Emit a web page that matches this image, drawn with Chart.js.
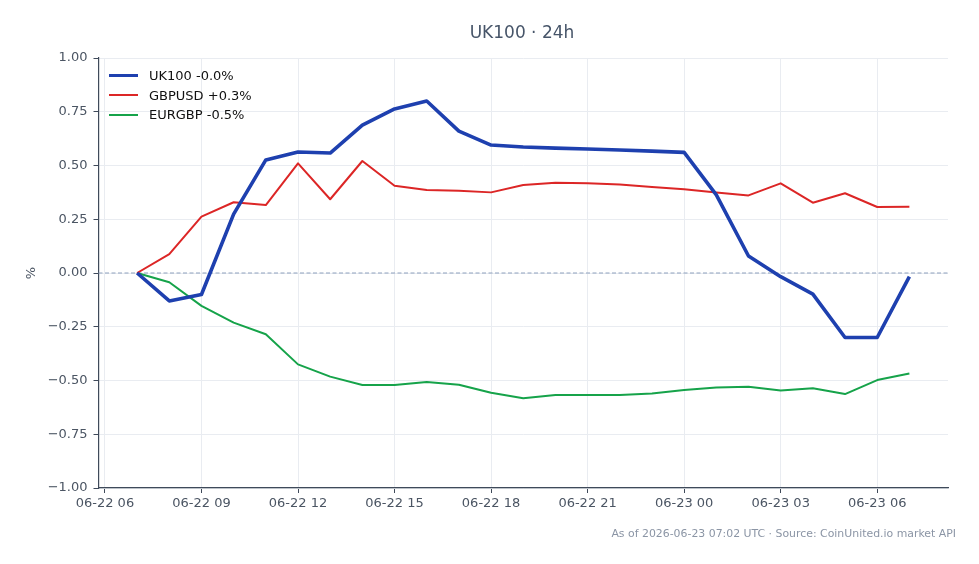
<!DOCTYPE html>
<html lang="en">
<head>
    <meta charset="UTF-8">
    <title>UK100 · 24h</title>
    <script src="https://cdn.jsdelivr.net/npm/chart.js"></script>
</head>
<style>
    body { margin: 0; background: #fff; font-family: "DejaVu Sans", sans-serif; }
    .wrap { position: relative; width: 979px; height: 564px; }
    .title { position: absolute; top: 22px; left: 322px; width: 400px; text-align: center;
             font-size: 17px; color: #475569; }
    .footer { position: absolute; top: 527px; right: 23px; font-size: 10.9px; color: #8b95a5; }
    .legend { position: absolute; left: 109px; top: 66px; font-size: 13px; color: #111; }
    .legend div { height: 19.5px; display: flex; align-items: center; }
    .legend span.sw { display: inline-block; width: 29px; margin-right: 11px; }
</style>
<body>
    <div class="wrap">
        <canvas id="chart" width="979" height="564"></canvas>
        <div class="title">UK100 · 24h</div>
        <div class="legend" id="legend"></div>
        <div class="footer">As of 2026-06-23 07:02 UTC · Source: CoinUnited.io market API</div>
    </div>

    <script>
        // hours counted from 06-22 00:00 UTC
        const hours = [7, 8, 9, 10, 11, 12, 13, 14, 15, 16, 17, 18, 19, 20, 21, 22, 23, 24, 25, 26, 27, 28, 29, 30, 31];
        const uk100 = [0, -0.13, -0.10, 0.274, 0.526, 0.563, 0.558, 0.688, 0.763, 0.80, 0.66, 0.595, 0.586,
                       0.581, 0.577, 0.572, 0.567, 0.561, 0.363, 0.079, -0.017, -0.098, -0.30, -0.30, -0.017];
        const gbpusd = [0, 0.088, 0.262, 0.329, 0.316, 0.51, 0.343, 0.521, 0.406, 0.386, 0.383, 0.375, 0.409,
                        0.42, 0.417, 0.412, 0.40, 0.389, 0.374, 0.361, 0.417, 0.327, 0.371, 0.307, 0.308];
        const eurgbp = [0, -0.043, -0.153, -0.231, -0.285, -0.425, -0.482, -0.521, -0.521, -0.507, -0.52, -0.557, -0.583,
                        -0.567, -0.567, -0.567, -0.56, -0.544, -0.533, -0.529, -0.547, -0.536, -0.563, -0.498, -0.467];
        const seriesNames = ['UK100 -0.0%', 'GBPUSD +0.3%', 'EURGBP -0.5%'];
        const xTicks = [6, 9, 12, 15, 18, 21, 24, 27, 30];
        const yTicks = [-1, -0.75, -0.5, -0.25, 0, 0.25, 0.5, 0.75, 1];

        const colors = ['#1e40af', '#dc2626', '#16a34a'];
        const widths = [3.6, 2, 2];
        const pad = n => String(n).padStart(2, '0');
        const hourLabel = h => h < 24 ? '06-22 ' + pad(h) : '06-23 ' + pad(h - 24);
        const fmtY = v => (v < 0 ? '\u2212' : '') + Math.abs(v).toFixed(2);

        const toPts = arr => arr.map((v, i) => ({x: hours[i], y: v}));
        const datasets = [uk100, gbpusd, eurgbp].map((arr, i) => ({
            label: seriesNames[i],
            data: toPts(arr),
            borderColor: colors[i],
            borderWidth: widths[i],
            pointRadius: 0,
            tension: 0,
            borderJoinStyle: 'round',
            order: i
        }));
        // draw blue on top
        datasets[0].order = -1;

        // legend (html)
        const lg = document.getElementById('legend');
        seriesNames.forEach((n, i) => {
            const row = document.createElement('div');
            row.innerHTML = '<span class="sw" style="border-top:' + widths[i] + 'px solid ' + colors[i] + '"></span>' + n;
            lg.appendChild(row);
        });

        const zeroLine = {
            id: 'zeroLine',
            beforeDatasetsDraw(chart) {
                const {ctx, chartArea} = chart;
                const y = chart.scales.y.getPixelForValue(0);
                ctx.save();
                ctx.strokeStyle = '#8ea0bd';
                ctx.lineWidth = 1;
                ctx.setLineDash([4, 2.5]);
                ctx.beginPath();
                ctx.moveTo(chartArea.left, y);
                ctx.lineTo(chartArea.right, y);
                ctx.stroke();
                ctx.restore();
            }
        };

        const tickFont = {family: 'DejaVu Sans', size: 13};

        new Chart(document.getElementById('chart').getContext('2d'), {
            type: 'line',
            data: {datasets: datasets},
            plugins: [zeroLine],
            options: {
                responsive: false,
                animation: false,
                layout: {padding: {top: 58, right: 31, left: 0, bottom: 46}},
                plugins: {legend: {display: false}, tooltip: {enabled: false}},
                scales: {
                    x: {
                        type: 'linear',
                        min: 5.8,
                        max: 32.2,
                        afterBuildTicks: s => { s.ticks = xTicks.map(v => ({value: v})); },
                        afterFit: s => { s.height = 30; },
                        ticks: {callback: v => hourLabel(v), color: '#4b5563', font: tickFont, padding: 3, maxRotation: 0},
                        grid: {color: '#e9ecf1', tickColor: '#3f4a5a', tickLength: 5, lineWidth: 1},
                        border: {color: '#3f4a5a', width: 1.2}
                    },
                    y: {
                        min: -1,
                        max: 1,
                        afterBuildTicks: s => { s.ticks = yTicks.map(v => ({value: v})); },
                        afterFit: s => { s.width = 98.5; },
                        ticks: {callback: v => fmtY(v), color: '#4b5563', font: tickFont, padding: 6},
                        grid: {color: '#e9ecf1', tickColor: '#3f4a5a', tickLength: 5, lineWidth: 1},
                        border: {color: '#3f4a5a', width: 1.2},
                        title: {display: true, text: '%', color: '#4b5563', font: tickFont, padding: {top: 24, bottom: 0}}
                    }
                }
            }
        });
    </script>
</body>
</html>
